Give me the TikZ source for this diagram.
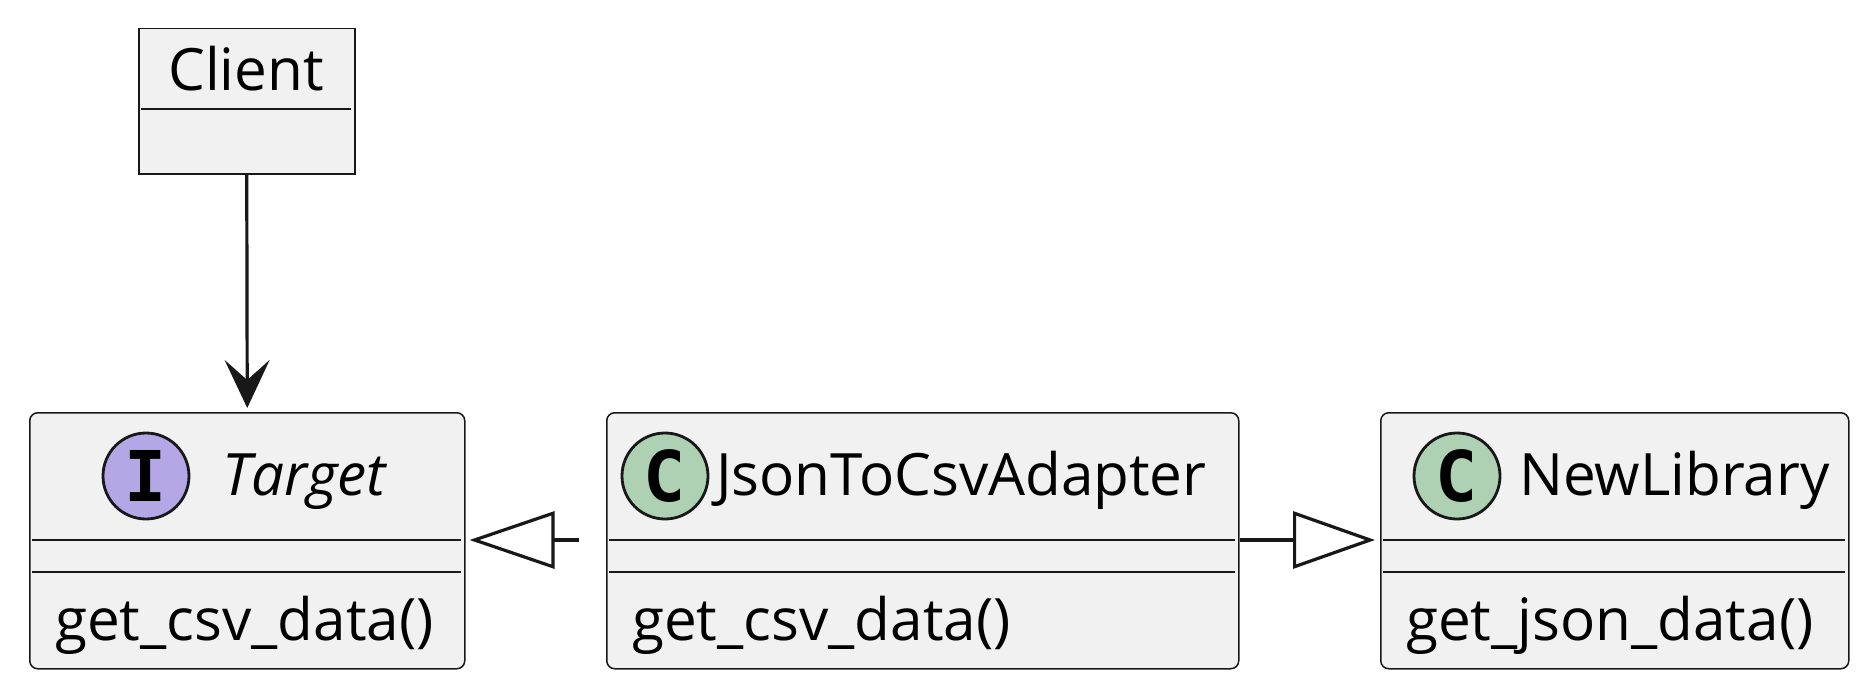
\documentclass[tikz,border=0pt]{standalone}
\usepackage{fontspec}
\setmainfont{Open Sans}
\newfontfamily\spotfont{DejaVu Sans Mono}
\usetikzlibrary{arrows.meta}
\definecolor{boxfill}{HTML}{F1F1F1}
\definecolor{umlline}{HTML}{181818}
\definecolor{ifacespot}{HTML}{B4A7E5}
\definecolor{classspot}{HTML}{ADD1B2}
\tikzset{
  classbox/.style={draw=umlline,fill=boxfill,line width=1.5pt,rounded corners=8pt,anchor=north west,inner sep=0pt,minimum height=256pt},
  objbox/.style={classbox,rounded corners=0pt,minimum height=145pt},
  sepline/.style={draw=umlline,line width=1.5pt},
  spot/.style={circle,draw=umlline,line width=2.8pt,minimum size=86pt,inner sep=0pt,font=\spotfont\bfseries\fontsize{70}{70}\selectfont},
  umltext/.style={anchor=base west,inner sep=0pt,font=\fontsize{58.4}{60}\selectfont},
  link/.style={draw=umlline,line width=3.2pt},
}
\begin{document}
\begin{tikzpicture}[x=1pt,y=-1pt]
    \useasboundingbox (0,0) rectangle (1872,693);
    % classes
    \node[objbox,minimum width=216pt] (client) at (138,28) {};
    \node[classbox,minimum width=435pt] (target) at (29,412) {};
    \node[classbox,minimum width=632pt] (adapter) at (606,412) {};
    \node[classbox,minimum width=468pt] (newlib) at (1380,412) {};
    \draw[sepline] (141,109) -- (351,109);
    \foreach \l/\r in {32/461,609/1235,1383/1845}{
        \draw[sepline] (\l,540) -- (\r,540);
        \draw[sepline] (\l,572) -- (\r,572);
    }
    % headers
    \node[umltext,anchor=base] (clientname) at (246,90) {Client};
    \node[spot,fill=ifacespot] (targetspot) at (146,476) {I};
    \node[umltext] (targetname) at (222,495) {\itshape Target};
    \node[spot,fill=classspot] (adapterspot) at (665,476) {C};
    \node[umltext] (adaptername) at (716,495) {JsonToCsvAdapter};
    \node[spot,fill=classspot] (newlibspot) at (1457,476) {C};
    \node[umltext] (newlibname) at (1519,495) {NewLibrary};
    % methods
    \node[umltext] (targetop) at (55,640) {get\_csv\_data()};
    \node[umltext] (adapterop) at (632,640) {get\_csv\_data()};
    \node[umltext] (newlibop) at (1406,640) {get\_json\_data()};
    % relations
    \coordinate (rel) at (0,540);
    \draw[link,-{Stealth[length=48pt,width=45pt,inset=20pt]},shorten >=4pt] (client.south) -- (target.north);
    \draw[link,dash pattern=on 26pt off 27pt,dash phase=26pt,-{Triangle[length=85pt,width=57pt,fill=white]},shorten >=4pt] (adapter.west |- rel) -- (target.east |- rel);
    \draw[link,-{Triangle[length=82pt,width=57pt,fill=white]},shorten >=5pt] (adapter.east |- rel) -- (newlib.west |- rel);
\end{tikzpicture}
\end{document}
